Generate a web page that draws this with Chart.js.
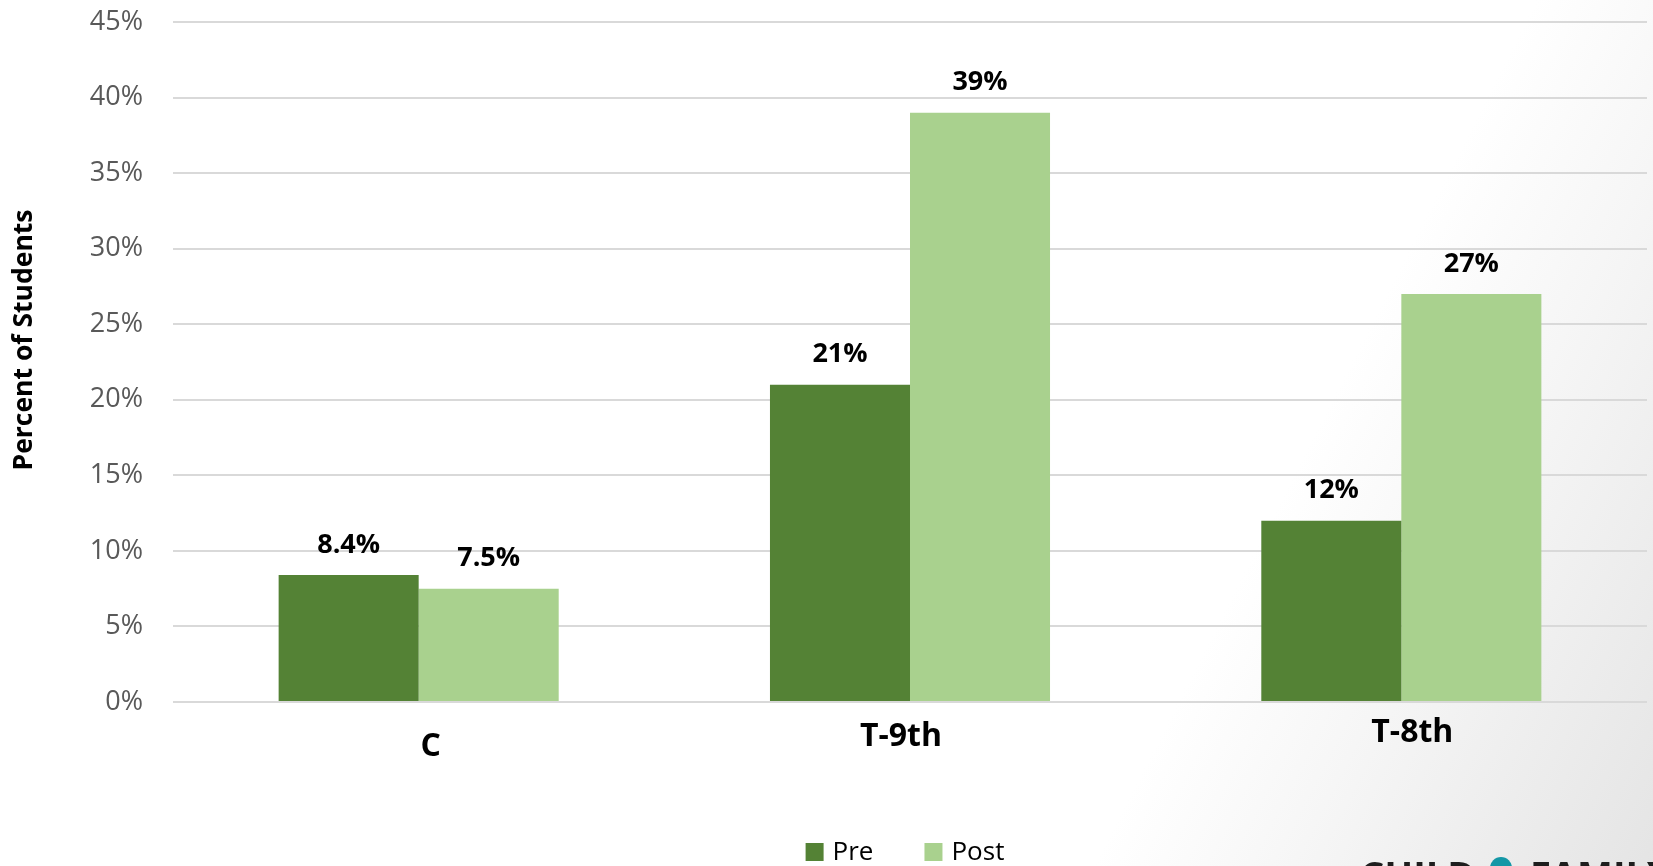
<!DOCTYPE html>
<html>
<head>
<meta charset="utf-8">
<title>Percent of Students — Pre / Post</title>
<style>
  html, body { margin: 0; padding: 0; background: #ffffff; overflow: hidden; }
  #wrap { position: relative; width: 1653px; height: 866px; }
  canvas { display: block; }
</style>
<script src="https://cdn.jsdelivr.net/npm/chart.js@4.4.1/dist/chart.umd.min.js"></script>
</head>
<body>
<div id="wrap"><canvas id="chart" width="1653" height="866"></canvas></div>
<script>
// ---- chart data ----
const categories = ['C', 'T-9th', 'T-8th'];
const seriesNames = ['Pre', 'Post'];
const preValues = [8.4, 21, 12];
const postValues = [7.5, 39, 27];
const yAxisTitle = 'Percent of Students';
const logoWords = ['CHILD', 'FAMILY'];

const FONT = "'Open Sans', 'Noto Sans', 'DejaVu Sans', sans-serif";
const seriesColors = ['#548235', '#A9D18E'];

// value label text: one decimal below 10%, whole percent above
function formatValue(v) {
  return (v < 10 ? v.toFixed(1) : Math.round(v).toString()) + '%';
}

// soft grey shading toward the lower right corner of the page
const backgroundPlugin = {
  id: 'pageBackground',
  beforeDraw(chart) {
    const { ctx, width, height } = chart;
    ctx.save();
    const g = ctx.createLinearGradient(1250, 560, 1700, 790);
    g.addColorStop(0, '#ffffff');
    g.addColorStop(0.35, '#f6f6f6');
    g.addColorStop(1, '#e4e4e4');
    ctx.fillStyle = g;
    ctx.fillRect(0, 0, width, height);
    ctx.restore();
  }
};

// numbers printed above each bar
const valueLabelPlugin = {
  id: 'valueLabels',
  afterDatasetsDraw(chart) {
    const { ctx } = chart;
    ctx.save();
    ctx.font = `bold 27px ${FONT}`;
    ctx.fillStyle = '#000000';
    ctx.textAlign = 'center';
    ctx.textBaseline = 'middle';
    chart.data.datasets.forEach((ds, di) => {
      chart.getDatasetMeta(di).data.forEach((bar, i) => {
        ctx.fillText(formatValue(ds.data[i]), bar.x, bar.y - 30);
      });
    });
    ctx.restore();
  }
};

// category names under the groups, each with its own small offset
const categoryLabelPlugin = {
  id: 'categoryLabels',
  afterDraw(chart, args, opts) {
    const { ctx, chartArea } = chart;
    const xs = chart.scales.x;
    ctx.save();
    ctx.font = `bold 32px ${FONT}`;
    ctx.fillStyle = '#000000';
    ctx.textAlign = 'center';
    ctx.textBaseline = 'middle';
    chart.data.labels.forEach((lab, i) => {
      const off = opts.offsets[i] || { dx: 0, dy: 40 };
      ctx.fillText(lab, xs.getPixelForValue(i) + off.dx, chartArea.bottom + off.dy);
    });
    ctx.restore();
  }
};

// rotated y-axis title
const yTitlePlugin = {
  id: 'yTitle',
  afterDraw(chart, args, opts) {
    const { ctx } = chart;
    ctx.save();
    ctx.translate(opts.x, opts.y);
    ctx.rotate(-Math.PI / 2);
    ctx.font = `bold 26.5px ${FONT}`;
    ctx.fillStyle = '#000000';
    ctx.textAlign = 'center';
    ctx.textBaseline = 'middle';
    ctx.fillText(opts.text, 0, 0);
    ctx.restore();
  }
};

// legend row: square swatch + series name, centred under the plot
const legendPlugin = {
  id: 'bottomLegend',
  afterDraw(chart, args, opts) {
    const { ctx, chartArea } = chart;
    const box = 18, gap = 9, itemGap = 51;
    ctx.save();
    ctx.font = `26px ${FONT}`;
    const items = chart.data.datasets.map(ds => ({
      text: ds.label, color: ds.backgroundColor, w: ctx.measureText(ds.label).width
    }));
    const total = items.reduce((s, it) => s + box + gap + it.w, 0) + itemGap * (items.length - 1);
    let x = (chartArea.left + chartArea.right) / 2 - opts.shift - total / 2;
    const cy = opts.y;
    ctx.textBaseline = 'middle';
    ctx.textAlign = 'left';
    items.forEach(it => {
      ctx.fillStyle = it.color;
      ctx.fillRect(x, cy - box / 2, box, box);
      ctx.fillStyle = '#000000';
      ctx.fillText(it.text, x + box + gap, cy + 1);
      x += box + gap + it.w + itemGap;
    });
    ctx.restore();
  }
};

// organisation mark along the bottom edge (mostly below the page)
const logoPlugin = {
  id: 'logoMark',
  afterDraw(chart, args, opts) {
    const { ctx } = chart;
    ctx.save();
    ctx.font = `bold 38px ${FONT}`;
    ctx.fillStyle = '#1e1e1e';
    ctx.textBaseline = 'alphabetic';
    ctx.textAlign = 'left';
    ctx.fillText(opts.words[0], 1360, 889);
    ctx.fillStyle = '#1497a6';
    ctx.beginPath();
    ctx.arc(1501, 868, 11, 0, Math.PI * 2);
    ctx.fill();
    ctx.fillStyle = '#1e1e1e';
    ctx.fillText(opts.words[1], 1530, 889);
    ctx.restore();
  }
};

const ctx = document.getElementById('chart').getContext('2d');
new Chart(ctx, {
  type: 'bar',
  data: {
    labels: categories,
    datasets: [
      { label: seriesNames[0], data: preValues, backgroundColor: seriesColors[0], borderWidth: 0 },
      { label: seriesNames[1], data: postValues, backgroundColor: seriesColors[1], borderWidth: 0 }
    ]
  },
  options: {
    responsive: false,
    animation: false,
    devicePixelRatio: 1,
    layout: { padding: { top: 22, right: 6, left: 0, bottom: 0 } },
    datasets: { bar: { categoryPercentage: 0.57, barPercentage: 1.0 } },
    plugins: {
      legend: { display: false },
      tooltip: { enabled: false },
      categoryLabels: { offsets: [ { dx: 12, dy: 45 }, { dx: -9, dy: 35 }, { dx: 11, dy: 31 } ] },
      yTitle: { text: yAxisTitle, x: 24, y: 340 },
      bottomLegend: { y: 852, shift: 5 },
      logoMark: { words: logoWords }
    },
    scales: {
      x: {
        grid: { display: false },
        border: { display: false },
        ticks: { display: false },
        afterFit(scale) { scale.height = 164; }
      },
      y: {
        min: 0,
        max: 45,
        ticks: {
          stepSize: 5,
          padding: 30,
          color: '#595959',
          font: { family: FONT, size: 27 },
          callback: v => v + '%'
        },
        grid: { color: '#d9d9d9', lineWidth: 2, drawTicks: false },
        border: { display: false },
        afterFit(scale) {
          scale.width = 173;
          // the label gap should not push the plot down from the top edge
          scale.paddingTop = 0;
          scale.paddingBottom = 0;
        }
      }
    }
  },
  plugins: [backgroundPlugin, valueLabelPlugin, categoryLabelPlugin, yTitlePlugin, legendPlugin, logoPlugin]
});
</script>
</body>
</html>
